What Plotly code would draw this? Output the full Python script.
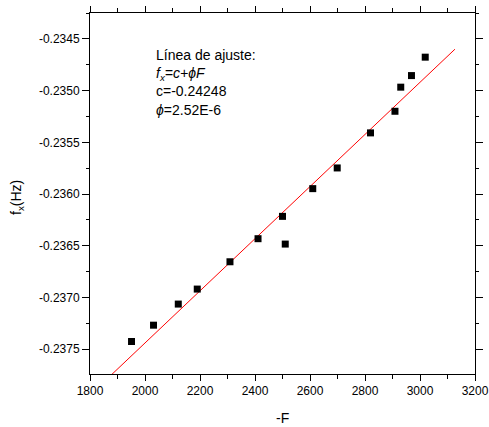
import plotly.graph_objects as go

# Data
neg_F = [1951, 2031, 2121, 2190, 2309, 2411, 2500, 2510, 2610, 2699, 2820, 2909, 2930, 2969, 3019]
f_x = [-0.237426, -0.237268, -0.237064, -0.236919, -0.236655, -0.236432, -0.236216, -0.236484,
       -0.235948, -0.235748, -0.235409, -0.235200, -0.234967, -0.234855, -0.234677]

# Fit parameters shown in the chart
fit_c = -0.24248
fit_phi = 2.52e-6
fit_x = [1860, 3127]
fit_y = [fit_c + fit_phi * v for v in fit_x]

x_tickvals = [1800, 2000, 2200, 2400, 2600, 2800, 3000, 3200]
y_tickvals = [-0.2375, -0.2370, -0.2365, -0.2360, -0.2355, -0.2350, -0.2345]
y_ticktext = ["-0.2375", "-0.2370", "-0.2365", "-0.2360", "-0.2355", "-0.2350", "-0.2345"]

FONT = "Liberation Sans, Arial, sans-serif"

fig = go.Figure()
fig.add_trace(go.Scatter(x=fit_x, y=fit_y, mode="lines",
                         line=dict(color="#ff0000", width=1), showlegend=False))
fig.add_trace(go.Scatter(x=neg_F, y=f_x, mode="markers",
                         marker=dict(symbol="square", size=7, color="black"),
                         showlegend=False, cliponaxis=False))

axis_common = dict(showline=True, linecolor="black", linewidth=1, mirror="ticks",
                   ticks="outside", tickcolor="black", showgrid=False, zeroline=False,
                   automargin=False,
                   tickfont=dict(family=FONT, size=12, color="black"))

fig.update_xaxes(range=[1800, 3200], tickvals=x_tickvals, ticklen=6, tickwidth=1,
                 minor=dict(dtick=100, tick0=1800, ticks="outside", ticklen=4,
                            tickcolor="black", showgrid=False),
                 **axis_common)
fig.update_yaxes(range=[-0.23774, -0.23425], tickvals=y_tickvals, ticktext=y_ticktext,
                 ticklen=7, tickwidth=1,
                 minor=dict(dtick=0.00025, tick0=-0.2375, ticks="outside", ticklen=3,
                            tickcolor="black", showgrid=False),
                 **axis_common)

fig.add_annotation(text="Línea de ajuste:<br><i>f<sub>x</sub>=c+ϕF</i><br>c=-0.24248<br><i>ϕ</i>=2.52E-6",
                   xref="paper", yref="paper", x=0.166, y=0.912, xanchor="left", yanchor="top",
                   align="left", showarrow=False,
                   font=dict(family=FONT, size=14, color="black"))
fig.add_annotation(text="-F", xref="paper", yref="paper", x=0.5, y=-0.122,
                   xanchor="center", yanchor="middle", showarrow=False,
                   font=dict(family=FONT, size=14, color="black"))
fig.add_annotation(text="f<sub>x</sub>(Hz)", xref="paper", yref="paper", x=-0.19, y=0.49,
                   xanchor="center", yanchor="middle", showarrow=False, textangle=-90,
                   font=dict(family=FONT, size=14, color="black"))

fig.update_layout(width=489, height=427, margin=dict(l=90, r=14, t=13, b=53),
                  paper_bgcolor="white", plot_bgcolor="white",
                  font=dict(family=FONT, color="black"))

fig.write_html("out.html", config={"displayModeBar": False},
               post_script="document.body.style.margin='0';document.body.style.overflow='hidden';")
